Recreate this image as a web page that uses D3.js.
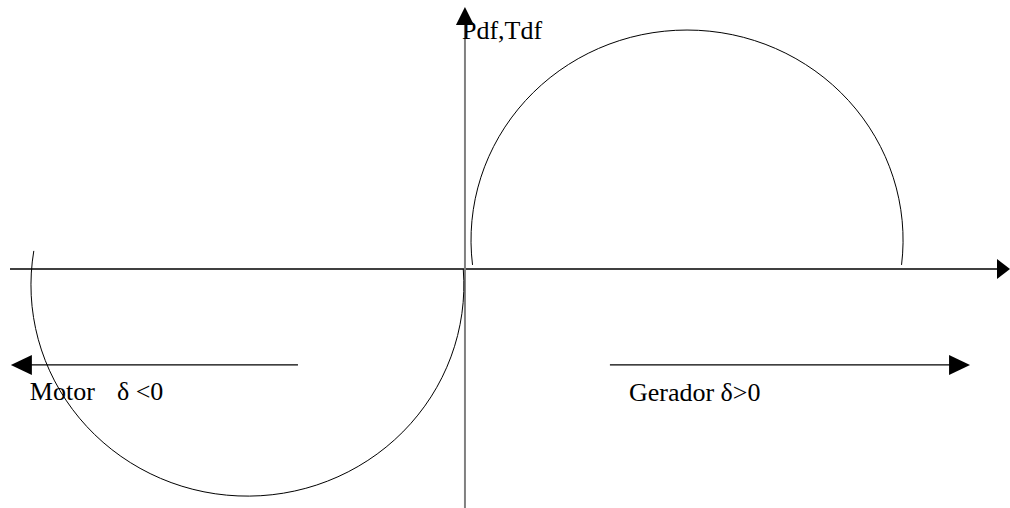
<!DOCTYPE html>
<html>
<head>
<meta charset="utf-8">
<script src="https://cdn.jsdelivr.net/npm/d3@7"></script>
<style>
  html, body { margin: 0; background: #fff; }
  svg { display: block; }
  text { font-family: "Liberation Serif", "Times New Roman", serif; font-size: 26px; fill: #000; }
</style>
</head>
<body>
<svg id="chart" width="1010" height="508"></svg>
<script>
// Unidades normalizadas: 1 = raio da curva de potência.
const AXIS_LABEL = 'Pdf,Tdf';
const REGION_LABELS = ['Motor', 'δ <0', 'Gerador δ>0'];

// Curvas P-δ: centro, raios e ângulos (graus) de início/fim.
const CURVES = [
  { name: 'gerador', cx: 1.028, cy: 0.134, rx: 1.0, ry: 0.972, from: 186.8, to: -6.8 },
  { name: 'motor', cx: -1.007, cy: -0.074, rx: 1.002, ry: 0.977, from: 170.7, to: 364.3 }
];

// Setas de sentido (início da linha -> ponta).
const DIRECTIONS = [
  { name: 'motor', level: -0.444, from: -0.773, to: -2.102 },
  { name: 'gerador', level: -0.444, from: 0.671, to: 2.338 }
];

const width = 1010;
const height = 508;
const svg = d3.select('#chart');

const x = d3.scaleLinear().domain([-2.106, 2.523]).range([10, 1010]);
const y = d3.scaleLinear().domain([-1.106, 1.245]).range([508, 0]);

function triangle(tipX, tipY, dx, dy, len, half) {
  // dx,dy: unit direction of the tip
  const bx = tipX - dx * len;
  const by = tipY - dy * len;
  const p = d3.path();
  p.moveTo(tipX, tipY);
  p.lineTo(bx - dy * half, by + dx * half);
  p.lineTo(bx + dy * half, by - dx * half);
  p.closePath();
  return p.toString();
}

// eixo horizontal
svg.append('line')
  .attr('x1', x(-2.106)).attr('x2', x(2.523) - 12)
  .attr('y1', y(0)).attr('y2', y(0))
  .attr('stroke', '#000').attr('stroke-width', 1.3);
svg.append('path')
  .attr('d', triangle(x(2.523), y(0), 1, 0, 13, 10))
  .attr('fill', '#000');

// eixo vertical
svg.append('line')
  .attr('x1', x(0)).attr('x2', x(0))
  .attr('y1', y(-1.106)).attr('y2', y(1.213) + 16)
  .attr('stroke', '#808080').attr('stroke-width', 2);
svg.append('path')
  .attr('d', triangle(x(0), y(1.213), 0, -1, 18, 9))
  .attr('fill', '#000');

// curvas
const rad = Math.PI / 180;
svg.selectAll('path.curve')
  .data(CURVES)
  .join('path')
  .attr('class', 'curve')
  .attr('fill', 'none')
  .attr('stroke', '#000')
  .attr('stroke-width', 1)
  .attr('d', (d) => {
    const x0 = x(d.cx + d.rx * Math.cos(d.from * rad));
    const y0 = y(d.cy + d.ry * Math.sin(d.from * rad));
    const x1 = x(d.cx + d.rx * Math.cos(d.to * rad));
    const y1 = y(d.cy + d.ry * Math.sin(d.to * rad));
    const rxPx = x(d.rx) - x(0);
    const ryPx = y(0) - y(d.ry);
    const large = Math.abs(d.to - d.from) > 180 ? 1 : 0;
    const sweep = d.to < d.from ? 1 : 0;
    return `M${x0},${y0}A${rxPx},${ryPx} 0 ${large} ${sweep} ${x1},${y1}`;
  });

// setas de sentido
DIRECTIONS.forEach((d) => {
  const dir = Math.sign(d.to - d.from);
  svg.append('line')
    .attr('x1', x(d.from)).attr('x2', x(d.to) - dir * 20)
    .attr('y1', y(d.level)).attr('y2', y(d.level))
    .attr('stroke', '#000').attr('stroke-width', 1.3);
  svg.append('path')
    .attr('d', triangle(x(d.to), y(d.level), dir, 0, 21, 10))
    .attr('fill', '#000');
});

// textos
svg.append('text').attr('x', x(-0.014)).attr('y', y(1.064)).text(AXIS_LABEL);
svg.append('text').attr('x', x(-2.014)).attr('y', y(-0.606)).text(REGION_LABELS[0]);
svg.append('text').attr('x', x(-1.611)).attr('y', y(-0.606)).text(REGION_LABELS[1]);
svg.append('text').attr('x', x(0.759)).attr('y', y(-0.61)).text(REGION_LABELS[2]);
</script>
</body>
</html>
